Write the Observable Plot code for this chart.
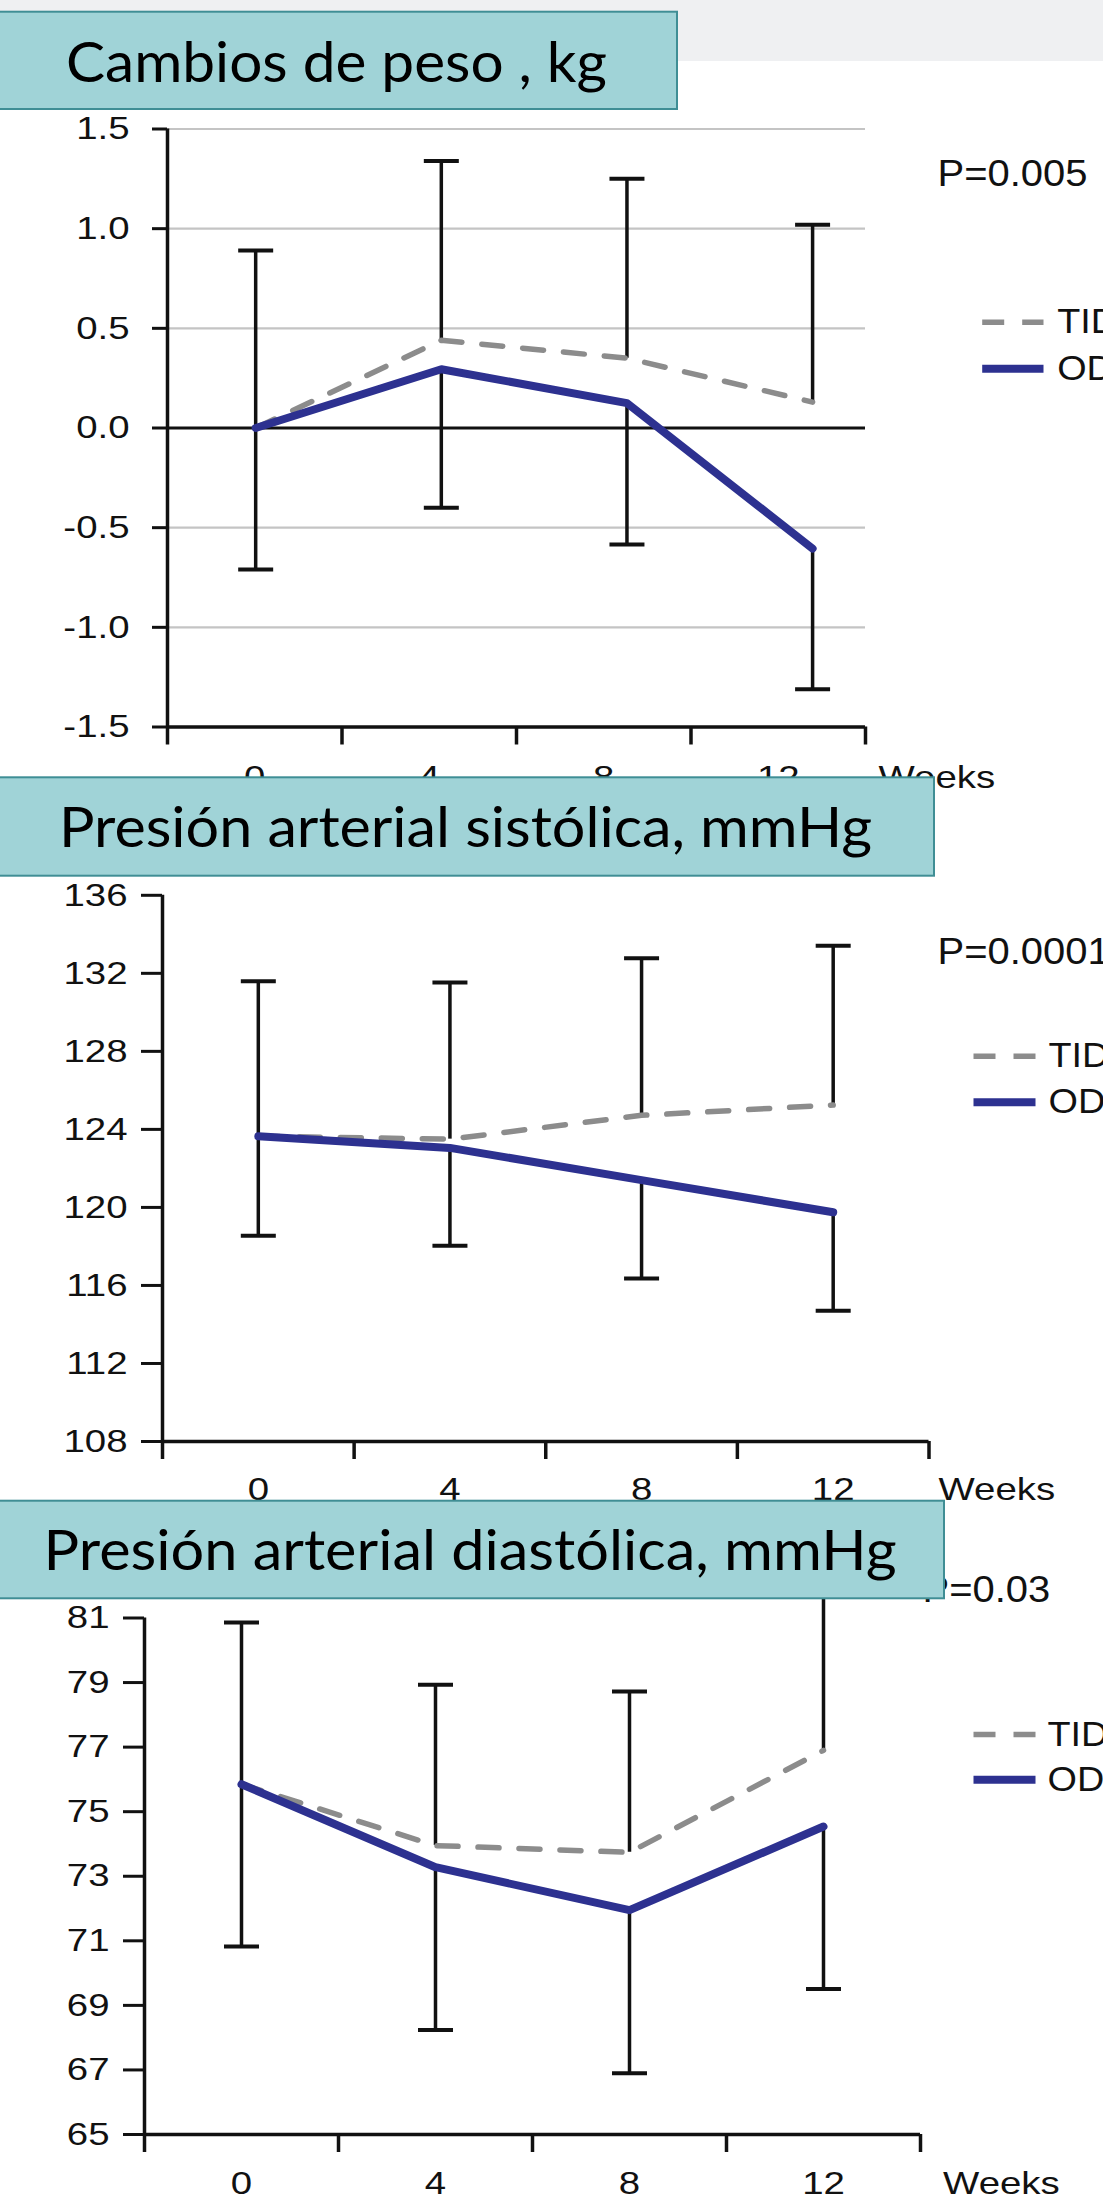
<!DOCTYPE html>
<html><head><meta charset="utf-8">
<script src="https://cdn.jsdelivr.net/npm/d3@7"></script>
<script src="https://cdn.jsdelivr.net/npm/@observablehq/plot@0.6"></script>
<style>
html,body{margin:0;padding:0;background:#fff;}
#page{position:relative;width:1103px;height:2194px;overflow:hidden;background:#fff;}
#band{position:absolute;left:0;top:0;width:1103px;height:61px;background:#eff0f2;}
.panel{position:absolute;left:0;width:1103px;}
.panel svg{overflow:visible;background:transparent;max-width:none;}
#overlay{position:absolute;left:0;top:0;}
</style></head><body>
<div id="page"><div id="band"></div></div>
<script>
// ---- data ----
const weeks = [0, 4, 8, 12];
const weekLabels = ["0", "4", "8", "12"];
const series = ["TID", "OD"];
const titles = ["Cambios de peso , kg", "Presión arterial sistólica, mmHg", "Presión arterial diastólica, mmHg"];
const pValues = ["P=0.005", "P=0.0001", "P=0.03"];
const axisName = "Weeks";

const pesoTID    = [0, 0.44, 0.35, 0.13];
const pesoOD     = [0, 0.295, 0.125, -0.605];
const pesoTIDsup = [0.89, 1.34, 1.25, 1.02];
const pesoODinf  = [-0.71, -0.40, -0.585, -1.31];
const pesoTicks  = [-1.5, -1, -0.5, 0, 0.5, 1, 1.5];

const sisTID    = [123.65, 123.5, 124.72, 125.25];
const sisOD     = [123.65, 123.05, 121.4, 119.75];
const sisTIDsup = [131.6, 131.53, 132.77, 133.42];
const sisODinf  = [118.55, 118.03, 116.36, 114.7];
const sisTicks  = [108, 112, 116, 120, 124, 128, 132, 136];

const diaTID    = [75.85, 73.95, 73.74, 76.9];
const diaOD     = [75.85, 73.28, 71.95, 74.54];
const diaTIDsup = [80.86, 78.93, 78.72, 81.9];
const diaODinf  = [70.82, 68.24, 66.9, 69.51];
const diaTicks  = [65, 67, 69, 71, 73, 75, 77, 79, 81];

// ---- layout / style ----
const GREY = "#8c8c8c", BLUE = "#2d3190", INK = "#111";
const layouts = [
  {top:0, height:800, ml:167, mr:238, mt:128.5, mb:73.5, xDomain:[-1.9, 13.14], yDomain:[-1.5, 1.5], grid:true,
   tickSize:15, tickPadding:23, fmt:d => d.toFixed(1), labelDy:60.5, weeksDx:13, pX:937, pY:185,
   legX:[981.7, 1043, 1056.7], legY:[321.7, 368.3], box:{y:11.7, h:97.3, w:677, tx:66, ty:82, tw:541}},
  {top:780, height:730, ml:162, mr:174.5, mt:114.8, mb:69, xDomain:[-2, 14], yDomain:[108, 136], grid:false,
   tickSize:21, tickPadding:14, fmt:d => String(d), labelDy:58, weeksDx:9.5, pX:937, pY:183.3,
   legX:[973, 1035, 1048], legY:[275.7, 321.7], box:{y:777.3, h:98.4, w:934, tx:59, ty:846.7, tw:813}},
  {top:1500, height:694, ml:144, mr:183, mt:117.5, mb:60, xDomain:[-2, 14], yDomain:[65, 81], grid:false,
   tickSize:21, tickPadding:14, fmt:d => String(d), labelDy:59, weeksDx:22.6, pX:922, pY:101.7,
   legX:[973, 1035, 1047], legY:[234, 279.3], box:{y:1500.7, h:97.6, w:944, tx:43.6, ty:1569.7, tw:853}}
];

const panelsData = [
  [pesoTID, pesoOD, pesoTIDsup, pesoODinf, pesoTicks],
  [sisTID, sisOD, sisTIDsup, sisODinf, sisTicks],
  [diaTID, diaOD, diaTIDsup, diaODinf, diaTicks]
];

const capSymbol = {draw(ctx, size) { const r = Math.sqrt(size / Math.PI); ctx.moveTo(-r, 0); ctx.lineTo(r, 0); }};

function stretch(svg) {
  svg.querySelectorAll("text").forEach(el => {
    const fs = parseFloat(getComputedStyle(el).fontSize) || 32;
    const k = fs > 34 ? 1.08 : 1.2;
    const t = el.getAttribute("transform") || "";
    const x = parseFloat(el.getAttribute("x")) || 0;
    el.setAttribute("transform", `${t} translate(${x},0) scale(${k},1) translate(${-x},0)`);
  });
}

const page = document.getElementById("page");

layouts.forEach((L, idx) => {
  const [tid, od, sup, inf, yTicks] = panelsData[idx];
  const data = weeks.map((w, i) => ({week: w, tid: tid[i], od: od[i], sup: sup[i], inf: inf[i]}));
  const [x0, x1] = L.xDomain, [y0, y1] = L.yDomain;
  const W = 1103, H = L.height;
  const fw = W - L.ml - L.mr, fh = H - L.mt - L.mb;
  const px2x = px => x0 + (px - L.ml) / fw * (x1 - x0);
  const py2y = py => y1 - (py - L.mt) / fh * (y1 - y0);
  const step = (x1 - x0) / 4;
  const bounds = d3.range(5).map(i => x0 + i * step);
  const centers = weekLabels.map((t, i) => ({t, x: x0 + (i + 0.5) * step}));
  const legend = series.map((s, i) => ({s, y: py2y(L.legY[i]), xa: px2x(L.legX[0]), xb: px2x(L.legX[1]), xt: px2x(L.legX[2])}));

  const marks = [];
  if (L.grid) {
    marks.push(Plot.ruleY(yTicks, {stroke: "#c4c4c4", strokeWidth: 2.2}));
    marks.push(Plot.ruleY([0], {stroke: INK, strokeWidth: 3}));
  }
  marks.push(
    Plot.ruleX([x0], {stroke: INK, strokeWidth: 3.5}),
    Plot.ruleY([y0], {stroke: INK, strokeWidth: 3.5}),
    Plot.axisY({ticks: yTicks, tickSize: L.tickSize, tickPadding: L.tickPadding, tickFormat: L.fmt, fontSize: 32, strokeWidth: 3, label: null}),
    Plot.axisX({ticks: bounds, tickSize: 18, tickFormat: () => "", strokeWidth: 3.5, label: null}),
    Plot.text(centers, {x: "x", y: () => y0, text: "t", dy: L.labelDy, lineAnchor: "bottom", fontSize: 32}),
    Plot.text([axisName], {x: () => x1, y: () => y0, text: d => d, dx: L.weeksDx, dy: L.labelDy, textAnchor: "start", lineAnchor: "bottom", fontSize: 32}),
    Plot.ruleX(data, {x: "week", y1: "tid", y2: "sup", stroke: INK, strokeWidth: 3.5}),
    Plot.ruleX(data, {x: "week", y1: "od", y2: "inf", stroke: INK, strokeWidth: 3.5}),
    Plot.line(data, {x: "week", y: "tid", stroke: GREY, strokeWidth: 5.5, strokeDasharray: "21,20"}),
    Plot.line(data, {x: "week", y: "od", stroke: BLUE, strokeWidth: 8, strokeLinejoin: "round"}),
    Plot.dot(data, {x: "week", y: "sup", r: 17.5, symbol: capSymbol, fill: "none", stroke: INK, strokeWidth: 4}),
    Plot.dot(data, {x: "week", y: "inf", r: 17.5, symbol: capSymbol, fill: "none", stroke: INK, strokeWidth: 4}),
    Plot.text([pValues[idx]], {x: () => px2x(L.pX), y: () => py2y(L.pY), text: d => d, textAnchor: "start", lineAnchor: "bottom", fontSize: 37}),
    Plot.link(legend.filter(d => d.s === "TID"), {x1: "xa", x2: "xb", y1: "y", y2: "y", stroke: GREY, strokeWidth: 5.5, strokeDasharray: "22,18"}),
    Plot.link(legend.filter(d => d.s === "OD"), {x1: "xa", x2: "xb", y1: "y", y2: "y", stroke: BLUE, strokeWidth: 8}),
    Plot.text(legend, {x: "xt", y: "y", text: "s", textAnchor: "start", lineAnchor: "middle", fontSize: 35})
  );

  const svg = Plot.plot({
    width: W, height: H,
    marginLeft: L.ml, marginRight: L.mr, marginTop: L.mt, marginBottom: L.mb,
    x: {type: "linear", domain: L.xDomain, label: null},
    y: {type: "linear", domain: L.yDomain, label: null},
    style: {fontFamily: "'Liberation Sans', Arial, sans-serif", fontSize: "32px", color: INK, background: "transparent", overflow: "visible"},
    marks
  });
  const div = document.createElement("div");
  div.className = "panel";
  div.style.top = L.top + "px";
  div.appendChild(svg);
  page.appendChild(div);
  stretch(svg);
});

// title boxes on top
const ov = d3.select(page).append("svg").attr("id", "overlay").attr("width", 1103).attr("height", 2194);
layouts.forEach((L, i) => {
  const b = L.box;
  ov.append("rect").attr("x", -2).attr("y", b.y).attr("width", b.w + 2).attr("height", b.h)
    .attr("fill", "#a0d3d7").attr("stroke", "#3f8e95").attr("stroke-width", 2);
  ov.append("text").attr("x", b.tx).attr("y", b.ty)
    .attr("font-family", "Lato, 'Open Sans', sans-serif").attr("font-size", 56)
    .attr("textLength", b.tw).attr("lengthAdjust", "spacingAndGlyphs")
    .attr("fill", "#000").text(titles[i]);
});
</script>
</body></html>
